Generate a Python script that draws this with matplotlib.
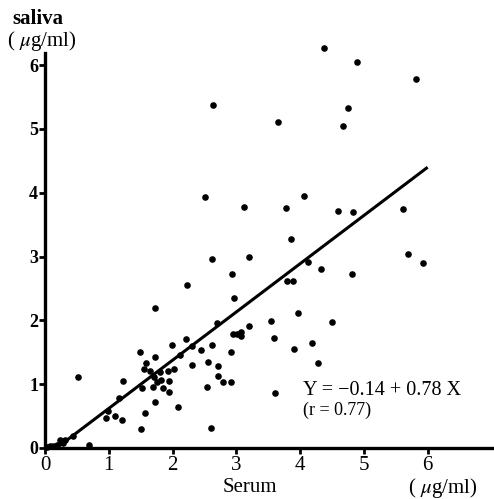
import matplotlib.pyplot as plt

plt.rcParams['mathtext.fontset'] = 'stix'

# serum (x) vs saliva (y) concentrations, ug/ml
serum = [
    # near origin
    0.03, 0.08, 0.13, 0.19, 0.24, 0.28, 0.31, 0.44, 0.69,
    # low
    0.52, 0.96, 0.99, 1.10, 1.16, 1.21, 1.22,
    # cluster 1.5 - 2.1
    1.49, 1.72, 1.58, 1.55, 1.65, 1.80, 1.93, 2.02, 1.71, 1.76, 1.82, 1.94,
    1.69, 1.85, 1.94, 1.52, 1.72, 2.08, 1.57, 1.50,
    # 2.1 - 3.2
    2.21, 1.99, 2.30, 2.62, 2.45, 2.92, 2.12, 2.56, 2.30, 2.71, 2.71, 2.79,
    2.91, 2.54, 2.60, 2.70, 3.20, 2.95, 3.01, 3.07, 3.07, 1.72, 2.23, 2.96,
    2.93, 2.62, 3.20,
    # 3.5 - 4.8
    3.54, 3.59, 3.90, 4.18, 4.28, 3.61, 3.97, 4.50, 3.79, 3.89, 4.12, 4.33,
    4.81, 3.86,
    # upper
    4.37, 4.89, 5.82, 2.63, 4.75, 4.67, 3.65, 2.51, 3.12, 4.06, 3.78, 4.59,
    4.83, 5.61, 5.69, 5.92,
]
saliva = [
    0.02, 0.03, 0.03, 0.05, 0.13, 0.08, 0.13, 0.19, 0.05,
    1.11, 0.47, 0.58, 0.50, 0.78, 0.44, 1.05,
    1.50, 1.43, 1.33, 1.24, 1.21, 1.19, 1.21, 1.24, 1.11, 1.03, 1.07, 1.05,
    0.96, 0.94, 0.88, 0.94, 0.72, 0.64, 0.55, 0.30,
    1.71, 1.61, 1.60, 1.61, 1.54, 1.50, 1.46, 1.35, 1.30, 1.28, 1.13, 1.03,
    1.03, 0.96, 0.31, 1.96, 1.91, 1.79, 1.79, 1.82, 1.76, 2.19, 2.56, 2.35,
    2.73, 2.96, 3.00,
    1.99, 1.72, 1.55, 1.65, 1.33, 0.86, 2.12, 1.97, 2.62, 2.62, 2.92, 2.81,
    2.73, 3.28,
    6.27, 6.05, 5.78, 5.38, 5.33, 5.05, 5.11, 3.93, 3.78, 3.95, 3.76, 3.71,
    3.70, 3.75, 3.04, 2.90,
]

# regression line as drawn
line_x = [0.18, 6.0]
line_y = [0.0, 4.40]

ticks = [0, 1, 2, 3, 4, 5, 6]

serif = 'Liberation Serif'

fig = plt.figure(figsize=(4.94, 4.99), dpi=100)
ax = fig.add_axes([45 / 494, 51 / 499, 449 / 494, 395 / 499])

ax.scatter(serum, saliva, s=14, color='black', zorder=3, clip_on=False)
ax.plot(line_x, line_y, color='black', lw=2.2, solid_capstyle='butt')

ax.set_xlim(0, 7.04)
ax.set_ylim(0, 6.19)
for side in ['top', 'right']:
    ax.spines[side].set_visible(False)
for side in ['left', 'bottom']:
    ax.spines[side].set_linewidth(2.4)

ax.set_xticks(ticks)
ax.set_yticks(ticks)
ax.set_xticklabels([str(t) for t in ticks], fontfamily=serif, fontsize=15)
ax.set_yticklabels([str(t) for t in ticks], fontfamily=serif, fontsize=13,
                   fontweight='bold')
ax.tick_params(axis='both', direction='out', length=4, width=2)
ax.tick_params(axis='x', pad=2)
ax.tick_params(axis='y', pad=1)

fig.text(12 / 494, 1 - 19 / 499, 'saliva', fontfamily=serif, fontsize=15,
         fontweight='bold', ha='left', va='center')
fig.text(7 / 494, 1 - 41 / 499, '( $\\mu$g/ml)', fontfamily=serif, fontsize=15,
         ha='left', va='center')
fig.text(250 / 494, 1 - 488 / 499, 'Serum', fontfamily=serif, fontsize=15,
         ha='center', va='center')
fig.text(443 / 494, 1 - 488 / 499, '( $\\mu$g/ml)', fontfamily=serif, fontsize=15,
         ha='center', va='center')

ax.text(4.05, 0.90, 'Y = \u22120.14 + 0.78 X', fontfamily=serif, fontsize=14.5,
        ha='left', va='center')
ax.text(4.05, 0.59, '(r = 0.77)', fontfamily=serif, fontsize=13,
        ha='left', va='center')

fig.savefig('out.png', dpi=100)
